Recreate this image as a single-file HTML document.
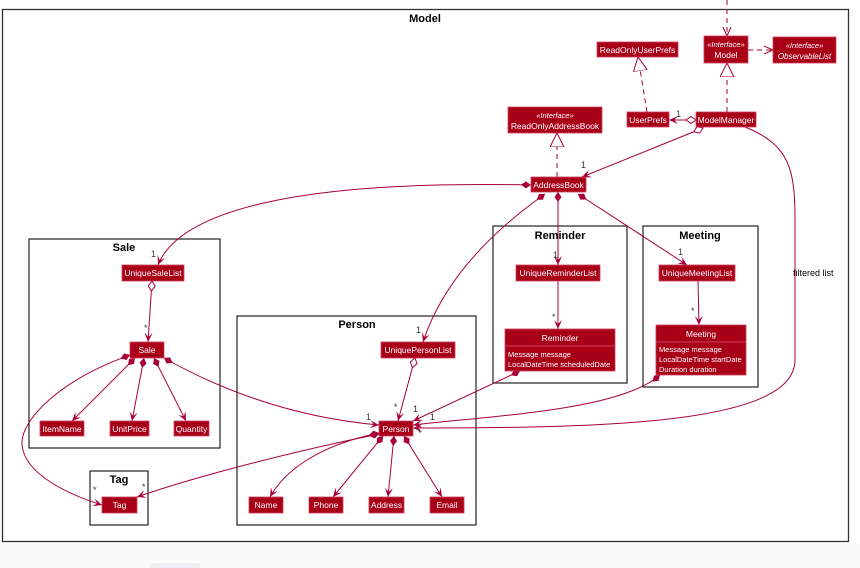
<!DOCTYPE html>
<html><head><meta charset="utf-8"><style>
html,body{margin:0;padding:0;background:#fafafa;}
svg{display:block;}
text{font-family:"Liberation Sans",sans-serif;}
.n rect{fill:#A80016;stroke:#d04060;stroke-width:0.8;}
.t{fill:#fff;font-size:8.5px;text-anchor:middle;}
.l{fill:none;stroke:#A80036;stroke-width:1;}
.d{fill:none;stroke:#A80036;stroke-width:1;stroke-dasharray:5,4;}
.pk{fill:#fff;stroke:#222;stroke-width:1.2;}
.pt{font-size:11px;font-weight:bold;text-anchor:middle;fill:#000;}
.m{font-size:9px;fill:#333;}
.s{fill:#fff;font-size:7.5px;}
</style></head><body>
<svg width="860" height="568" viewBox="0 0 860 568" xmlns="http://www.w3.org/2000/svg">
<defs>
<marker id="a" markerWidth="10" markerHeight="10" refX="9" refY="5" orient="auto" markerUnits="userSpaceOnUse"><path d="M0,1 L9,5 L0,9 L4,5 Z" fill="#A80036"/></marker>
<marker id="oa" markerWidth="10" markerHeight="10" refX="9" refY="5" orient="auto" markerUnits="userSpaceOnUse"><path d="M0,1 L9,5 L0,9" fill="none" stroke="#A80036"/></marker>
<marker id="tri" markerWidth="16" markerHeight="16" refX="14" refY="7" orient="auto" markerUnits="userSpaceOnUse"><path d="M0,0 L14,7 L0,14 Z" fill="#fff" stroke="#A80036"/></marker>
<marker id="fd" markerWidth="14" markerHeight="10" refX="11" refY="4.5" orient="auto-start-reverse" markerUnits="userSpaceOnUse"><path d="M1,4.5 L6,1 L11,4.5 L6,8 Z" fill="#A80036"/></marker>
<marker id="hd" markerWidth="14" markerHeight="10" refX="11" refY="4.5" orient="auto-start-reverse" markerUnits="userSpaceOnUse"><path d="M1,4.5 L6,1 L11,4.5 L6,8 Z" fill="#fff" stroke="#A80036"/></marker>
</defs>
<rect x="0" y="0" width="860" height="544" fill="#fff"/>
<rect x="2.5" y="9.5" width="846" height="532" fill="#fff" stroke="#333" stroke-width="1.3"/>
<text x="425" y="22" class="pt">Model</text>

<rect class="pk" x="29" y="239" width="191" height="209"/><text x="124" y="251" class="pt">Sale</text>
<rect class="pk" x="90" y="471" width="58" height="54"/><text x="119" y="483" class="pt">Tag</text>
<rect class="pk" x="237" y="316" width="239" height="209"/><text x="357" y="328" class="pt">Person</text>
<rect class="pk" x="493" y="226" width="134" height="157"/><text x="560" y="239" class="pt">Reminder</text>
<rect class="pk" x="643" y="226" width="115" height="161"/><text x="700" y="239" class="pt">Meeting</text>

<path class="d" d="M727,0 L727,36" marker-end="url(#oa)"/>
<path class="d" d="M748,50 L773,50" marker-end="url(#oa)"/>
<path class="d" d="M727,112 L727,63" marker-end="url(#tri)"/>
<path class="d" d="M647,112 L638,57" marker-end="url(#tri)"/>
<path class="d" d="M557,177 L557,133" marker-end="url(#tri)"/>
<path class="l" d="M696,120 L669,120" marker-start="url(#hd)" marker-end="url(#a)"/>
<path class="l" d="M703,128 L582,177" marker-start="url(#hd)" marker-end="url(#a)"/>
<path class="l" d="M745,127 C790,145 795,170 795,220 L795,360 C795,425 600,428 413,428" marker-end="url(#a)"/>
<path class="l" d="M531,185 C300,180 180,210 158,265" marker-start="url(#fd)" marker-end="url(#a)"/>
<path class="l" d="M558,192 L558,265" marker-start="url(#fd)" marker-end="url(#a)"/>
<path class="l" d="M578,194 L687,265" marker-start="url(#fd)" marker-end="url(#a)"/>
<path class="l" d="M545,194 C480,240 440,290 423,342" marker-start="url(#fd)" marker-end="url(#a)"/>
<path class="l" d="M558,281 L558,329" marker-end="url(#a)"/>
<path class="l" d="M698,281 L699,325" marker-end="url(#a)"/>
<path class="l" d="M152,281 L148,342" marker-start="url(#hd)" marker-end="url(#a)"/>
<path class="l" d="M415,358 L398,421" marker-start="url(#hd)" marker-end="url(#a)"/>
<path class="l" d="M520,371 L413,421" marker-start="url(#fd)" marker-end="url(#a)"/>
<path class="l" d="M660,375 C620,410 500,415 413,425" marker-start="url(#fd)" marker-end="url(#a)"/>
<path class="l" d="M164,358 C230,395 300,418 379,425" marker-start="url(#fd)" marker-end="url(#a)"/>
<path class="l" d="M130,355 C60,380 20,420 22,445 C25,475 70,495 102,505" marker-start="url(#fd)" marker-end="url(#a)"/>
<path class="l" d="M379,434 C300,450 200,475 137,497" marker-start="url(#fd)" marker-end="url(#a)"/>
<path class="l" d="M135,358 L72,421" marker-start="url(#fd)" marker-end="url(#a)"/>
<path class="l" d="M144,358 L132,421" marker-start="url(#fd)" marker-end="url(#a)"/>
<path class="l" d="M154,358 L186,421" marker-start="url(#fd)" marker-end="url(#a)"/>
<path class="l" d="M379,433 C320,445 285,470 270,497" marker-start="url(#fd)" marker-end="url(#a)"/>
<path class="l" d="M383,436 L333,497" marker-start="url(#fd)" marker-end="url(#a)"/>
<path class="l" d="M394,436 L388,497" marker-start="url(#fd)" marker-end="url(#a)"/>
<path class="l" d="M404,436 L442,497" marker-start="url(#fd)" marker-end="url(#a)"/>

<g class="m">
<text x="676" y="117">1</text><text x="581" y="168">1</text><text x="151" y="257">1</text>
<text x="553" y="258">1</text><text x="678" y="255">1</text><text x="416" y="333">1</text>
<text x="552" y="320">*</text><text x="691" y="314">*</text><text x="144" y="331">*</text>
<text x="394" y="410">*</text><text x="413" y="412">1</text><text x="366" y="420">1</text>
<text x="430" y="420">1</text><text x="418" y="436">*</text>
<text x="93" y="493">*</text><text x="142" y="490">*</text>
<text x="793" y="276" style="font-size:9px;fill:#000">filtered list</text>
</g>

<g class="n">
<rect x="597" y="42" width="81" height="15"/><text class="t" x="637.5" y="53">ReadOnlyUserPrefs</text>
<rect x="704" y="36" width="44" height="27"/><text class="t" x="726" y="47" style="font-style:italic;font-size:7.5px">«Interface»</text><text class="t" x="726" y="58">Model</text>
<rect x="773" y="37" width="63" height="26"/><text class="t" x="804.5" y="48" style="font-style:italic;font-size:7.5px">«Interface»</text><text class="t" x="804.5" y="59" style="font-style:italic;font-size:8px">ObservableList</text>
<rect x="627" y="112" width="42" height="15"/><text class="t" x="648" y="123">UserPrefs</text>
<rect x="696" y="112" width="60" height="15"/><text class="t" x="726" y="123">ModelManager</text>
<rect x="508" y="107" width="94" height="26"/><text class="t" x="555" y="118" style="font-style:italic;font-size:7.5px">«Interface»</text><text class="t" x="555" y="129">ReadOnlyAddressBook</text>
<rect x="531" y="177" width="55" height="15"/><text class="t" x="558.5" y="188">AddressBook</text>
<rect x="516" y="265" width="84" height="16"/><text class="t" x="558" y="276">UniqueReminderList</text>
<rect x="659" y="265" width="76" height="16"/><text class="t" x="697" y="276">UniqueMeetingList</text>
<rect x="505" y="329" width="110" height="42"/><line x1="505" y1="346" x2="615" y2="346" stroke="#d04060"/><text class="t" x="560" y="341">Reminder</text>
<text x="508" y="357" class="s">Message message</text><text x="508" y="367" class="s">LocalDateTime scheduledDate</text>
<rect x="656" y="325" width="90" height="50"/><line x1="656" y1="342" x2="746" y2="342" stroke="#d04060"/><text class="t" x="701" y="337">Meeting</text>
<text x="659" y="352" class="s">Message message</text><text x="659" y="362" class="s">LocalDateTime startDate</text><text x="659" y="372" class="s">Duration duration</text>
<rect x="122" y="265" width="62" height="16"/><text class="t" x="153" y="276">UniqueSaleList</text>
<rect x="130" y="342" width="34" height="16"/><text class="t" x="147" y="353">Sale</text>
<rect x="40" y="421" width="44" height="15"/><text class="t" x="62" y="432">ItemName</text>
<rect x="110" y="421" width="39" height="15"/><text class="t" x="129.5" y="432">UnitPrice</text>
<rect x="174" y="421" width="35" height="15"/><text class="t" x="191.5" y="432">Quantity</text>
<rect x="102" y="497" width="35" height="16"/><text class="t" x="119.5" y="508">Tag</text>
<rect x="381" y="342" width="74" height="16"/><text class="t" x="418" y="353">UniquePersonList</text>
<rect x="379" y="421" width="34" height="15"/><text class="t" x="396" y="432">Person</text>
<rect x="249" y="497" width="34" height="16"/><text class="t" x="266" y="508">Name</text>
<rect x="309" y="497" width="34" height="16"/><text class="t" x="326" y="508">Phone</text>
<rect x="369" y="497" width="35" height="16"/><text class="t" x="386.5" y="508">Address</text>
<rect x="430" y="497" width="34" height="16"/><text class="t" x="447" y="508">Email</text>
</g>
<rect x="150" y="563" width="50" height="8" rx="3" fill="#f0f0f4"/>
</svg>
</body></html>
